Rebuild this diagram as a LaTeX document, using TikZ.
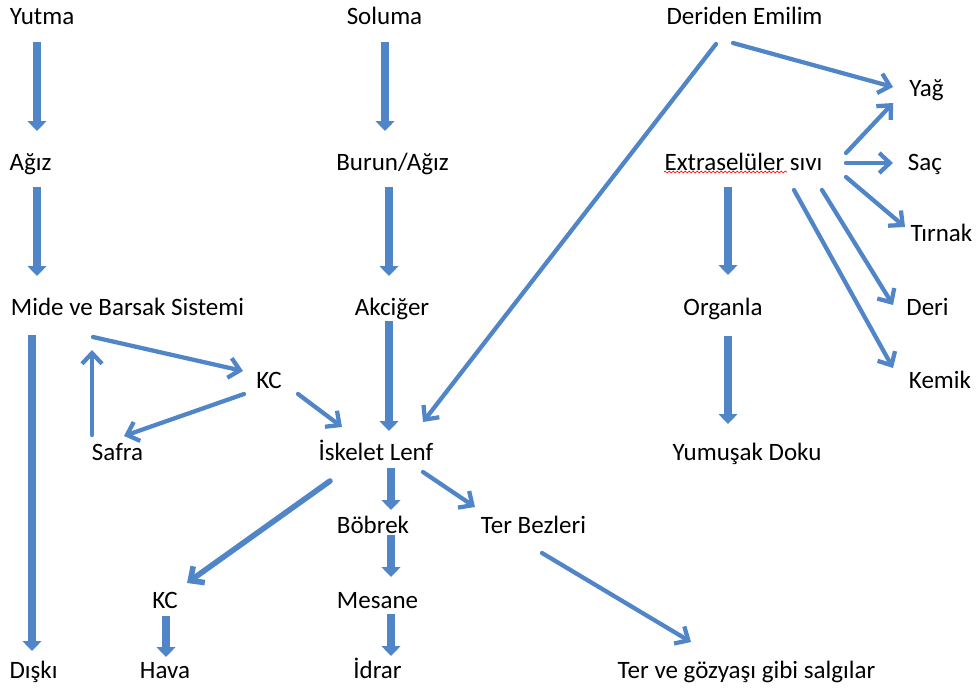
\documentclass[tikz,border=0pt]{standalone}
\usepackage{fontspec}
\setmainfont{Carlito}
\usepackage{tikz}
\usetikzlibrary{arrows.meta, calc, decorations.pathmorphing}

\definecolor{arrowblue}{RGB}{80,133,200}
\tikzset{
  lbl/.style={inner sep=0pt, text height=12pt, text depth=0pt, font=\fontsize{18.75}{22}\selectfont},
  blockarrow/.style={draw=arrowblue, line width=6pt, -{Triangle[width=14pt,length=7.5pt]}},
  openarrow/.style={draw=arrowblue, line width=3.2pt, line cap=round, -{Straight Barb[length=8pt,width=15pt]}}
}

\begin{document}
\begin{tikzpicture}[x=0.75pt,y=0.75pt,yscale=-1,xscale=1]
\useasboundingbox (0,0) rectangle (978,693);

% Text Nodes, left column
\node [lbl] (yutma) at (42,16) {Yutma};
\node [lbl] (agiz) at (30.5,162) {Ağız};
\node [lbl] (mide) at (127.5,307) {Mide ve Barsak Sistemi};
\node [lbl] (diski) at (33.5,670) {Dışkı};
\node [lbl] (kcust) at (269,380) {KC};
\node [lbl] (safra) at (117.5,452) {Safra};
\node [lbl] (kcalt) at (165,600) {KC};
\node [lbl] (hava) at (165,670) {Hava};
% Text Nodes, middle column
\node [lbl] (soluma) at (384.5,16) {Soluma};
\node [lbl] (burun) at (392.5,162) {Burun/Ağız};
\node [lbl] (akciger) at (392,307) {Akciğer};
\node [lbl] (iskelet) at (376,452) {İskelet Lenf};
\node [lbl] (bobrek) at (373,525) {Böbrek};
\node [lbl] (terbez) at (533.5,525) {Ter Bezleri};
\node [lbl] (mesane) at (377.5,600) {Mesane};
\node [lbl] (idrar) at (377.5,670) {İdrar};
\node [lbl] (tergoz) at (746.5,670) {Ter ve gözyaşı gibi salgılar};
% Text Nodes, right column
\node [lbl] (deriden) at (744.5,16) {Deriden Emilim};
\node [lbl] (extra) at (743.5,162) {Extraselüler sıvı};
\node [lbl] (organla) at (723,307) {Organla};
\node [lbl] (yumusak) at (747,452) {Yumuşak Doku};
\node [lbl] (yag) at (926.5,88) {Yağ};
\node [lbl] (sac) at (925,162) {Saç};
\node [lbl] (tirnak) at (941.5,233) {Tırnak};
\node [lbl] (deri) at (927.5,307) {Deri};
\node [lbl] (kemik) at (940,380) {Kemik};

% spell check underline
\draw [red, line width=0.5pt, decorate, decoration={snake,amplitude=0.7pt,segment length=3pt}] ($(extra)+(-79.5,10)$) -- ($(extra)+(43.5,10)$);

% Block Arrows
\draw [blockarrow] ($(yutma)+(-5,26)$) -- ($(agiz)+(6.5,-31)$);
\draw [blockarrow] ($(agiz)+(6.5,25)$) -- ($(mide)+(-90.5,-31)$);
\draw [blockarrow] ($(mide)+(-95.5,28)$) -- ($(diski)+(-1.5,-19)$);
\draw [blockarrow] ($(soluma)+(0.5,26)$) -- ($(burun)+(-7.5,-31)$);
\draw [blockarrow] ($(burun)+(-3.5,25)$) -- ($(akciger)+(-3,-31)$);
\draw [blockarrow] ($(akciger)+(-3,14)$) -- ($(iskelet)+(13,-21)$);
\draw [blockarrow] ($(iskelet)+(15,16)$) -- ($(bobrek)+(18,-15)$);
\draw [blockarrow] ($(bobrek)+(18,10)$) -- ($(mesane)+(13.5,-23)$);
\draw [blockarrow] ($(mesane)+(13.5,14)$) -- ($(idrar)+(13.5,-14)$);
\draw [blockarrow] ($(kcalt)+(1,16)$) -- ($(hava)+(1,-13)$);
\draw [blockarrow] ($(extra)+(-15.5,25)$) -- ($(organla)+(5,-32)$);
\draw [blockarrow] ($(organla)+(5,29)$) -- ($(yumusak)+(-19,-28)$);

% Open Arrows
\draw [openarrow] ($(mide)+(-34.5,30)$) -- ($(kcust)+(-26,-9)$);
\draw [openarrow] ($(safra)+(-25.5,-17)$) -- ($(mide)+(-35.5,43)$);
\draw [openarrow] ($(kcust)+(-25,14)$) -- ($(safra)+(6.5,-16)$);
\draw [openarrow] ($(kcust)+(29,14)$) -- ($(iskelet)+(-34,-25)$);
\draw [openarrow] ($(deriden)+(-28.5,28)$) -- ($(iskelet)+(47,-30)$);
\draw [openarrow] ($(deriden)+(-11.5,27)$) -- ($(yag)+(-33.5,-1)$);
\draw [openarrow] ($(extra)+(102.5,-9)$) -- ($(yag)+(-33.5,15)$);
\draw [openarrow] ($(extra)+(102.5,1)$) -- ($(sac)+(-32,1)$);
\draw [openarrow] ($(extra)+(102.5,15)$) -- ($(tirnak)+(-36.5,-6)$);
\draw [openarrow] ($(extra)+(78.5,28)$) -- ($(deri)+(-34.5,-2)$);
\draw [openarrow] ($(extra)+(50.5,28)$) -- ($(kemik)+(-47,-12)$);
\draw [openarrow, line width=4.2pt] ($(iskelet)+(-46,29)$) -- ($(kcalt)+(22,-17)$);
\draw [openarrow] ($(iskelet)+(47,20)$) -- ($(terbez)+(-58.5,-18)$);
\draw [openarrow] ($(terbez)+(8.5,28)$) -- ($(tergoz)+(-55.5,-28)$);
\end{tikzpicture}
\end{document}
